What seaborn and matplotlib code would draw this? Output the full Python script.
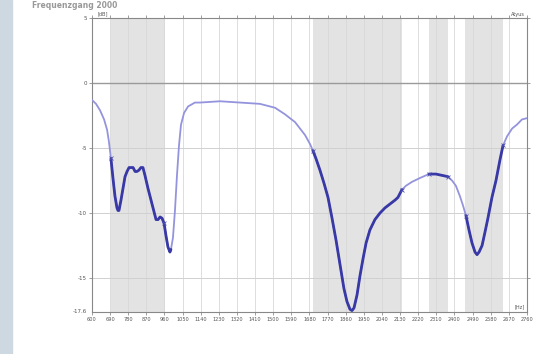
import numpy as np
import pandas as pd
import matplotlib
matplotlib.use("Agg")
import matplotlib.pyplot as plt
import seaborn as sns

# ---- data ----
freq = [600, 620, 640, 660, 675, 684, 694, 704, 714, 724, 729, 734, 744, 754, 764, 774,
        784, 794, 804, 814, 823, 833, 843, 853, 863, 878, 893, 908, 918, 928, 938, 948,
        958, 967, 977, 987, 992, 1002, 1012, 1022, 1032, 1042, 1057, 1077, 1111, 1136,
        1236, 1335, 1434, 1509, 1558, 1608, 1633, 1658, 1683, 1697, 1712, 1732, 1752,
        1772, 1792, 1812, 1832, 1851, 1866, 1881, 1891, 1901, 1916, 1931, 1946, 1961,
        1980, 2005, 2030, 2055, 2080, 2105, 2119, 2139, 2159, 2189, 2229, 2273, 2308,
        2338, 2368, 2388, 2407, 2427, 2442, 2457, 2472, 2487, 2502, 2512, 2522, 2537,
        2551, 2566, 2586, 2606, 2626, 2641, 2661, 2686, 2710, 2735, 2760]
level = [-1.3, -1.6, -2.1, -2.8, -3.6, -4.5, -5.8, -7.3, -8.7, -9.6, -9.8, -9.8, -9.0, -8.1, -7.2, -6.8,
         -6.5, -6.5, -6.5, -6.8, -6.8, -6.7, -6.5, -6.5, -7.1, -8.1, -9.0, -9.9, -10.5, -10.5, -10.3, -10.4,
         -10.8, -11.7, -12.6, -13.0, -12.8, -11.9, -9.8, -7.1, -4.8, -3.2, -2.3, -1.8, -1.5, -1.5,
         -1.4, -1.5, -1.6, -1.9, -2.4, -3.0, -3.5, -4.0, -4.7, -5.2, -5.8, -6.7, -7.7,
         -8.8, -10.4, -12.1, -14.0, -15.8, -16.8, -17.4, -17.5, -17.3, -16.3, -14.8, -13.5, -12.3,
         -11.3, -10.5, -10.0, -9.6, -9.3, -9.0, -8.8, -8.2, -7.9, -7.6, -7.3, -7.0, -7.0,
         -7.1, -7.2, -7.5, -7.9, -8.7, -9.4, -10.2, -11.3, -12.3, -13.0, -13.2, -13.0, -12.5,
         -11.5, -10.4, -8.8, -7.5, -5.9, -4.8, -4.1, -3.5, -3.2, -2.8, -2.7]
band_start = [694, 1697, 2273, 2452]
band_end = [962, 2139, 2368, 2641]
bold_start = [694, 1697, 2273, 2457]
bold_end = [992, 2139, 2368, 2641]
marker_freq = [694, 958, 1697, 2139, 2273, 2368, 2457, 2641]
xticks = list(range(600, 2761, 90))
yticks = [5, 0, -5, -10, -15]

df = pd.DataFrame({"freq": freq, "level": level})

sns.set_theme(style="white")
plt.rcParams["font.family"] = ["DejaVu Sans"]

fig = plt.figure(figsize=(5.33, 3.54), dpi=100)
ax = fig.add_axes([0.1726, 0.119, 0.8161, 0.830])

# left decorative strip
fig.patches.append(plt.Rectangle((0, 0), 0.023, 1, transform=fig.transFigure,
                                 color="#cdd8e0", zorder=0))
fig.text(0.06, 0.998, "Frequenzgang 2000", fontsize=5.5, color="#999999",
         fontweight="bold", va="top", ha="left")

for s, e in zip(band_start, band_end):
    ax.axvspan(s, e, color="#e3e3e3", zorder=0, lw=0)

for t in xticks:
    ax.axvline(t, color="#d8d8d8", lw=0.6, zorder=1)
for t in [-15, -10, -5, 5]:
    ax.axhline(t, color="#d0d0d0", lw=0.7, zorder=1)
ax.axhline(0, color="#9a9a9a", lw=1.0, zorder=1)

sns.lineplot(data=df, x="freq", y="level", ax=ax, color="#9494de", lw=1.3,
             sort=False, zorder=3, legend=False)
for s, e in zip(bold_start, bold_end):
    seg = df[(df["freq"] >= s) & (df["freq"] <= e)]
    sns.lineplot(data=seg, x="freq", y="level", ax=ax, color="#3838a6", lw=2.0,
                 sort=False, zorder=4, legend=False)

mk = df[df["freq"].isin(marker_freq)]
ax.scatter(mk["freq"], mk["level"], marker="x", s=8, color="#5050b0", lw=0.6, zorder=5)

ax.set_xlim(600, 2760)
ax.set_ylim(-17.6, 5)
ax.set_xticks(xticks)
ax.set_xticklabels([str(t) for t in xticks], fontsize=3.6, color="#555555")
ax.set_yticks(yticks)
ax.set_yticklabels([str(t) for t in yticks], fontsize=4, color="#555555")
ax.tick_params(axis="both", length=2, width=0.5, color="#777777", pad=1.5,
               top=True, bottom=True, left=True, right=True)
ax.set_xlabel("")
ax.set_ylabel("")
for sp in ax.spines.values():
    sp.set_color("#888888")
    sp.set_linewidth(0.8)

ax.text(0.012, 1.005, "[dB]", transform=ax.transAxes, fontsize=3.6, color="#555555",
        va="bottom", ha="left")
ax.text(0.995, 1.005, "Atyus", transform=ax.transAxes, fontsize=3.6, color="#555555",
        va="bottom", ha="right")
ax.text(0.995, 0.01, "[Hz]", transform=ax.transAxes, fontsize=3.6, color="#555555",
        va="bottom", ha="right")
ax.text(-0.012, 0.0, "-17.6", transform=ax.transAxes, fontsize=4, color="#555555",
        va="center", ha="right")

fig.savefig("out.png", dpi=100)
